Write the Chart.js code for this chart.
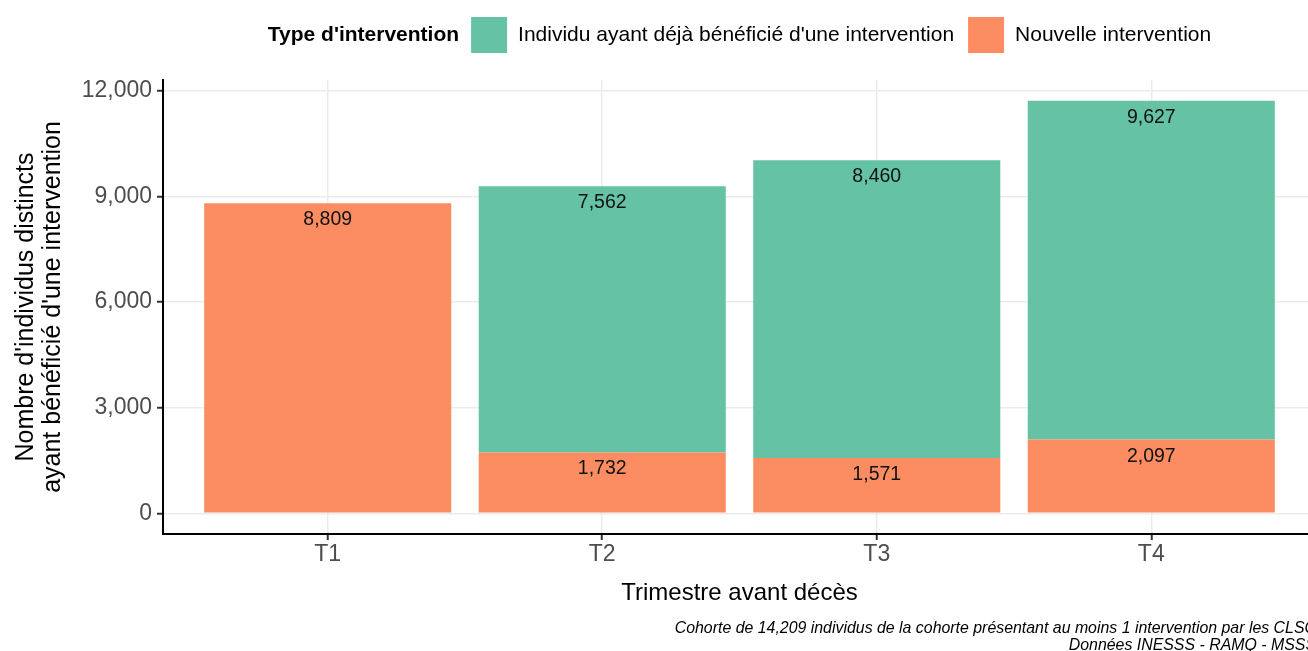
<!DOCTYPE html>
<html>
<head>
<meta charset="utf-8">
<script src="https://cdn.jsdelivr.net/npm/chart.js@4.4.1/dist/chart.umd.min.js"></script>
<style>
  html, body { margin: 0; padding: 0; background: #ffffff; overflow: hidden; width: 1308px; height: 651px; }
  #wrap { position: absolute; left: 0; top: 0; width: 1324px; height: 651px; }
  canvas { display: block; }
</style>
</head>
<body>
<div id="wrap"><canvas id="c" width="1324" height="651" style="width:1324px;height:651px"></canvas></div>
<script>
// ---- Data ----
const categories = ['T1', 'T2', 'T3', 'T4'];
const nouvelleIntervention = [8809, 1732, 1571, 2097];
const dejaBeneficie = [null, 7562, 8460, 9627];
const yTickValues = [0, 3000, 6000, 9000, 12000];
const seriesNames = ["Nouvelle intervention", "Individu ayant déjà bénéficié d'une intervention"];
const legendTitle = "Type d'intervention";
const yTitle = ["Nombre d'individus distincts", "ayant bénéficié d'une intervention"];
const xTitle = "Trimestre avant décès";
const captionLines = ["Cohorte de 14,209 individus de la cohorte présentant au moins 1 intervention par les CLSC", "Données INESSS - RAMQ - MSSS"];

const GREEN = '#66C2A5';
const ORANGE = '#FC8D62';
const FONT = '"Liberation Sans", Arial, Helvetica, sans-serif';

// ggplot-style 5% expansion of the stacked range
const totals = categories.map((c, i) => (nouvelleIntervention[i] || 0) + (dejaBeneficie[i] || 0));
const maxTotal = Math.max(...totals);
const yMin = -0.05 * maxTotal;
const yMax = maxTotal * 1.05;

const fmt = v => v.toLocaleString('en-US');

const barLabels = {
  id: 'barLabels',
  afterDatasetsDraw(chart) {
    const ctx = chart.ctx;
    ctx.save();
    ctx.font = '19.5px ' + FONT;
    ctx.fillStyle = '#111111';
    ctx.textAlign = 'center';
    ctx.textBaseline = 'alphabetic';
    chart.data.datasets.forEach((ds, di) => {
      const meta = chart.getDatasetMeta(di);
      meta.data.forEach((el, i) => {
        const v = ds.data[i].y;
        if (v === null || v === undefined) return;
        ctx.fillText(fmt(v), el.x, el.y + 22);
      });
    });
    ctx.restore();
  }
};

const customLegend = {
  id: 'customLegend',
  afterDraw(chart) {
    const ctx = chart.ctx;
    const ca = chart.chartArea;
    ctx.save();
    const titleFont = 'bold 21px ' + FONT;
    const labFont = '21px ' + FONT;
    ctx.font = titleFont;
    const wT = ctx.measureText(legendTitle).width;
    ctx.font = labFont;
    const items = [
      { label: seriesNames[1], color: GREEN },
      { label: seriesNames[0], color: ORANGE }
    ];
    items.forEach(it => it.w = ctx.measureText(it.label).width);
    const box = 36, gapTB = 12, gapBL = 11, gapLB = 14;
    let total = wT;
    items.forEach((it, k) => { total += (k === 0 ? gapTB : gapLB) + box + gapBL + it.w; });
    let x = (ca.left + ca.right) / 2 - total / 2;
    const cy = 35;
    ctx.textBaseline = 'middle';
    ctx.textAlign = 'left';
    ctx.fillStyle = '#000000';
    ctx.font = titleFont;
    ctx.fillText(legendTitle, x, cy);
    x += wT;
    ctx.font = labFont;
    items.forEach((it, k) => {
      x += (k === 0 ? gapTB : gapLB);
      ctx.fillStyle = it.color;
      ctx.fillRect(x, cy - box / 2, box, box);
      x += box + gapBL;
      ctx.fillStyle = '#000000';
      ctx.fillText(it.label, x, cy);
      x += it.w;
    });
    // caption
    ctx.font = 'italic 15.9px ' + FONT;
    ctx.textAlign = 'right';
    ctx.textBaseline = 'middle';
    ctx.fillStyle = '#000000';
    captionLines.forEach((line, k) => {
      ctx.fillText(line, ca.right, 628.5 + k * 17.5);
    });
    ctx.restore();
  }
};

const ctx = document.getElementById('c').getContext('2d');
new Chart(ctx, {
  type: 'bar',
  data: {
    datasets: [
      {
        label: seriesNames[0],
        data: categories.map((c, i) => ({ x: i + 1, y: nouvelleIntervention[i] })),
        backgroundColor: ORANGE,
        borderWidth: 0,
        categoryPercentage: 0.9,
        barPercentage: 1.0
      },
      {
        label: seriesNames[1],
        data: categories.map((c, i) => ({ x: i + 1, y: dejaBeneficie[i] })),
        backgroundColor: GREEN,
        borderWidth: 0,
        categoryPercentage: 0.9,
        barPercentage: 1.0
      }
    ]
  },
  options: {
    responsive: false,
    animation: false,
    events: [],
    layout: { padding: { top: 80, bottom: 43, left: 0, right: 8 } },
    plugins: {
      legend: { display: false },
      tooltip: { enabled: false },
      title: { display: false }
    },
    scales: {
      x: {
        type: 'linear',
        offset: false,
        stacked: true,
        min: 0.4,
        max: categories.length + 0.6,
        afterBuildTicks(scale) {
          scale.ticks = categories.map((c, i) => ({ value: i + 1 }));
        },
        afterFit(scale) { scale.height = 74; },
        ticks: {
          autoSkip: false,
          maxRotation: 0,
          padding: 1,
          color: '#4D4D4D',
          font: { family: FONT, size: 23 },
          callback: (v) => categories[Math.round(v) - 1]
        },
        grid: {
          offset: false,
          color: '#EBEBEB',
          lineWidth: 1.5,
          drawTicks: true,
          tickLength: 6,
          tickColor: '#333333',
          tickWidth: 2
        },
        border: { display: true, color: '#000000', width: 2 },
        title: {
          display: true,
          text: xTitle,
          color: '#000000',
          font: { family: FONT, size: 24, lineHeight: 1.2 },
          padding: { top: 0, bottom: 0 }
        }
      },
      y: {
        type: 'linear',
        stacked: true,
        min: yMin,
        max: yMax,
        afterBuildTicks(scale) {
          scale.ticks = yTickValues.map(v => ({ value: v }));
        },
        afterFit(scale) { scale.width = 163; },
        ticks: {
          padding: 5,
          color: '#4D4D4D',
          font: { family: FONT, size: 23 },
          callback: (v) => fmt(v)
        },
        grid: {
          color: '#EBEBEB',
          lineWidth: 1.5,
          drawTicks: true,
          tickLength: 6,
          tickColor: '#333333',
          tickWidth: 2
        },
        border: { display: true, color: '#000000', width: 2 },
        title: {
          display: true,
          text: yTitle,
          color: '#000000',
          font: { family: FONT, size: 25, lineHeight: 1.08 },
          padding: { top: 12.5, bottom: 0 }
        }
      }
    }
  },
  plugins: [barLabels, customLegend]
});
</script>
</body>
</html>
